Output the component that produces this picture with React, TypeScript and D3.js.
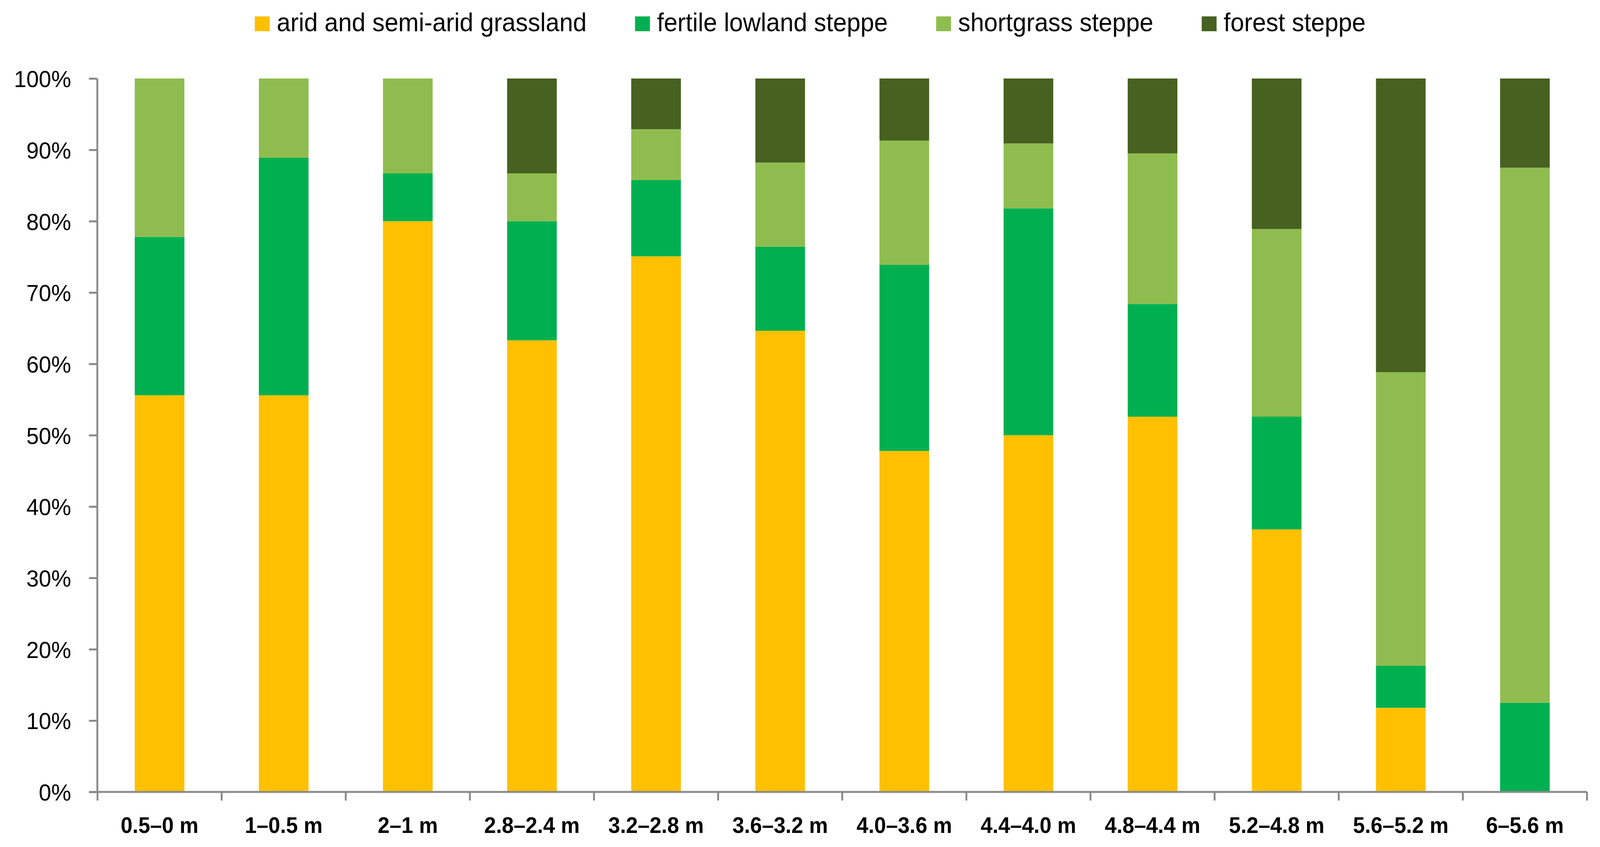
import * as d3 from "d3";
import * as React from "react";
import { useEffect, useRef } from "react";

// depth intervals (x categories)
const depths = [
  "0.5–0 m",
  "1–0.5 m",
  "2–1 m",
  "2.8–2.4 m",
  "3.2–2.8 m",
  "3.6–3.2 m",
  "4.0–3.6 m",
  "4.4–4.0 m",
  "4.8–4.4 m",
  "5.2–4.8 m",
  "5.6–5.2 m",
  "6–5.6 m",
];

// share of each vegetation type, %
const arid = [55.6, 55.6, 80, 63.3, 75, 64.7, 47.8, 50, 52.6, 36.8, 11.8, 0];
const fertile = [22.2, 33.3, 6.7, 16.7, 10.7, 11.8, 26.1, 31.8, 15.8, 15.8, 5.9, 12.5];
const shortgrass = [22.2, 11.1, 13.3, 6.7, 7.1, 11.8, 17.4, 9.1, 21.1, 26.3, 41.2, 75];
const forest = [0, 0, 0, 13.3, 7.1, 11.8, 8.7, 9.1, 10.5, 21.1, 41.2, 12.5];

const seriesNames = [
  "arid and semi-arid grassland",
  "fertile lowland steppe",
  "shortgrass steppe",
  "forest steppe",
];
const seriesColors = ["#ffc000", "#00b050", "#8fbc4f", "#466120"];

const yTicks = [0, 0.1, 0.2, 0.3, 0.4, 0.5, 0.6, 0.7, 0.8, 0.9, 1];

const W = 4299;
const H = 2169;
const FONT = "'Liberation Sans', Arial, sans-serif";
const AXIS = "#898989";

export default function App() {
  const ref = useRef<SVGSVGElement>(null);

  useEffect(() => {
    document.body.style.margin = "0";
    document.body.style.overflow = "hidden";
    const svg = d3.select(ref.current);
    svg.selectAll("*").remove();

    const left = 262,
      right = 4264,
      top = 201,
      bottom = 2028;

    const rows = depths.map((d, i) => ({
      depth: d,
      s0: arid[i],
      s1: fertile[i],
      s2: shortgrass[i],
      s3: forest[i],
    }));

    const x = d3
      .scaleBand()
      .domain(depths)
      .range([left, right])
      .paddingInner(0.6)
      .paddingOuter(0.3);
    const y = d3.scaleLinear().domain([0, 1]).range([bottom, top]);

    const stack = d3
      .stack<any>()
      .keys(["s0", "s1", "s2", "s3"])
      .offset(d3.stackOffsetExpand);
    const series = stack(rows);

    // bars
    svg
      .append("g")
      .selectAll("g")
      .data(series)
      .join("g")
      .attr("fill", (d, i) => seriesColors[i])
      .selectAll("rect")
      .data((d) => d)
      .join("rect")
      .attr("x", (d: any) => x(d.data.depth) as number)
      .attr("width", x.bandwidth())
      .attr("y", (d) => y(d[1]))
      .attr("height", (d) => y(d[0]) - y(d[1]));

    // y axis
    const yAxis = d3
      .axisLeft(y)
      .tickValues(yTicks)
      .tickFormat(d3.format(".0%"))
      .tickSize(22)
      .tickSizeOuter(0)
      .tickPadding(48);
    const gy = svg.append("g").attr("transform", `translate(${left - 1},0)`).call(yAxis);
    gy.select(".domain").attr("stroke", AXIS).attr("stroke-width", 5);
    gy.selectAll(".tick line").attr("stroke", AXIS).attr("stroke-width", 5);
    gy.selectAll(".tick text")
      .attr("font-family", FONT)
      .attr("font-size", 60)
      .attr("fill", "#000")
      .attr("dy", "0.36em");

    // x axis: line, ticks at category boundaries, labels at centres
    const gx = svg.append("g");
    gx.append("line")
      .attr("x1", left - 22)
      .attr("x2", right)
      .attr("y1", bottom)
      .attr("y2", bottom)
      .attr("stroke", AXIS)
      .attr("stroke-width", 5);
    const step = x.step();
    gx.selectAll("line.tick")
      .data(d3.range(depths.length + 1))
      .join("line")
      .attr("class", "tick")
      .attr("x1", (i) => left + i * step)
      .attr("x2", (i) => left + i * step)
      .attr("y1", bottom)
      .attr("y2", bottom + 22)
      .attr("stroke", AXIS)
      .attr("stroke-width", 5);
    gx.selectAll("text")
      .data(depths)
      .join("text")
      .attr("x", (d) => (x(d) as number) + x.bandwidth() / 2)
      .attr("y", 2133)
      .attr("text-anchor", "middle")
      .attr("font-family", FONT)
      .attr("font-weight", "bold")
      .attr("font-size", 57)
      .text((d) => d);

    // legend
    const lg = svg.append("g");
    let cx = 0;
    seriesNames.forEach((name, i) => {
      const item = lg.append("g").attr("transform", `translate(${cx},0)`);
      item
        .append("rect")
        .attr("x", 0)
        .attr("y", 42)
        .attr("width", 40)
        .attr("height", 38)
        .attr("fill", seriesColors[i]);
      const t = item
        .append("text")
        .attr("x", 59)
        .attr("y", 80)
        .attr("font-family", FONT)
        .attr("font-size", 66)
        .text(name);
      const w = (t.node() as SVGTextElement).getComputedTextLength();
      cx += 59 + w + 130;
    });
    const total = cx - 130;
    lg.attr("transform", `translate(${2177 - total / 2},0)`);
  }, []);

  return (
    <svg
      ref={ref}
      viewBox={`0 0 ${W} ${H}`}
      preserveAspectRatio="none"
      style={{ display: "block", width: "100vw", height: "100vh", background: "#fff" }}
    />
  );
}
